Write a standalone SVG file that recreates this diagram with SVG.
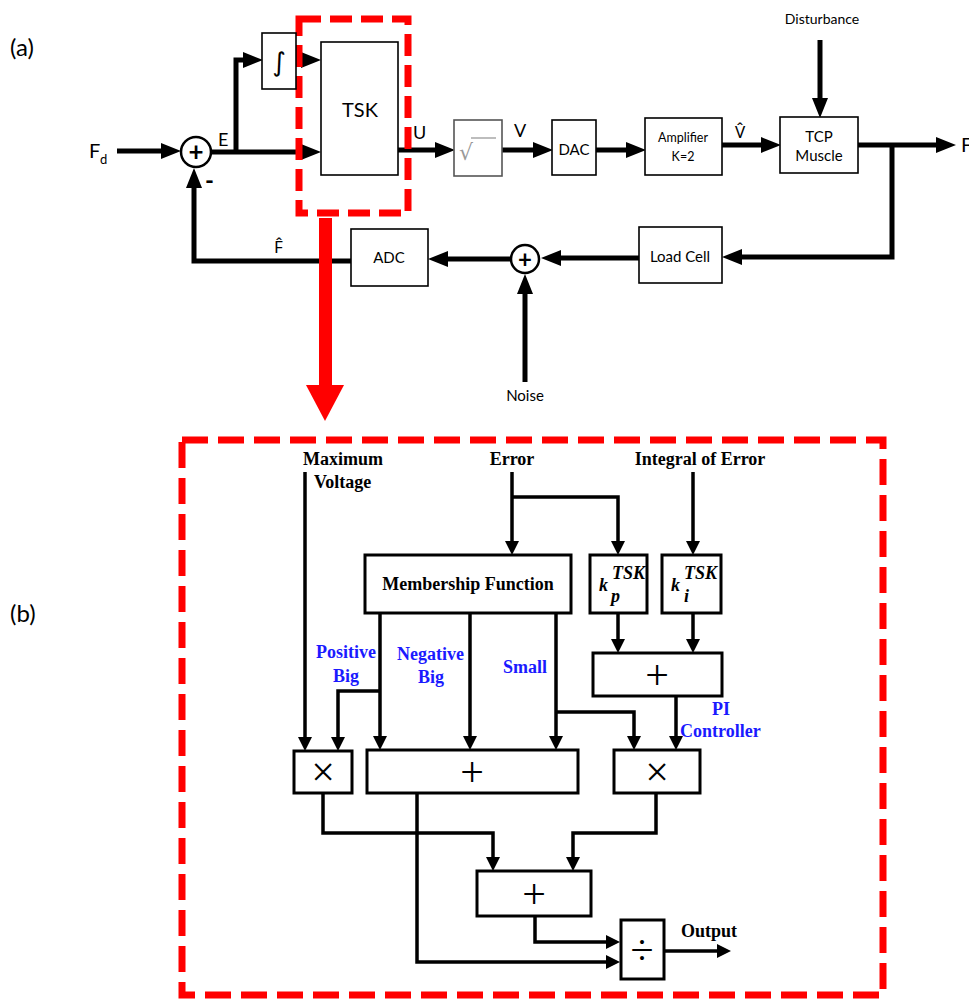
<svg xmlns="http://www.w3.org/2000/svg" width="969" height="1001" viewBox="0 0 969 1001">
<style>
.ba{fill:#fff;stroke:#000;stroke-width:1.6}
.bb{fill:#fff;stroke:#000;stroke-width:3}
.la{fill:none;stroke:#000;stroke-width:5;stroke-linejoin:miter}
.lb{fill:none;stroke:#000;stroke-width:3.5;stroke-linejoin:miter}
.ma{marker-end:url(#ha)}
.mb{marker-end:url(#hb)}
.ta{font-family:Lato,"Open Sans",sans-serif;fill:#000}
.tc{font-family:"Noto Sans","DejaVu Sans",sans-serif;fill:#000}
.tb{font-family:"Liberation Serif","Times New Roman",serif;font-weight:bold;fill:#000;font-size:18px}
.blue{fill:#1a1aff}
.op{font-family:"Liberation Serif",serif;font-size:42px;fill:#000;text-anchor:middle}
.red{fill:none;stroke:#ff0000;stroke-width:7}
</style>
<defs>
<marker id="ha" markerUnits="userSpaceOnUse" markerWidth="20" markerHeight="16" refX="3" refY="8" orient="auto"><path d="M0,0 L20,8 L0,16 z" fill="#000"/></marker>
<marker id="hb" markerUnits="userSpaceOnUse" markerWidth="14" markerHeight="14" refX="2" refY="7" orient="auto"><path d="M0,0 L14,7 L0,14 z" fill="#000"/></marker>
</defs>
<rect width="969" height="1001" fill="#fff"/>

<text class="ta" x="10" y="56" font-size="24">(a)</text>
<text class="ta" x="10" y="622" font-size="24">(b)</text>

<g id="connectors">
<!-- part a -->
<line class="la ma" x1="117" y1="151" x2="164" y2="151"/>
<line class="la ma" x1="211" y1="152" x2="304" y2="152"/>
<polyline class="la ma" points="236,152 236,60 246,60"/>
<line class="la ma" x1="296" y1="60" x2="304" y2="60"/>
<line class="la ma" x1="398" y1="150" x2="438" y2="150"/>
<line class="la ma" x1="502" y1="150" x2="536" y2="150"/>
<line class="la ma" x1="596" y1="150" x2="629" y2="150"/>
<line class="la ma" x1="722" y1="145" x2="764" y2="145"/>
<line class="la ma" x1="820" y1="40" x2="820" y2="101"/>
<line class="la ma" x1="858" y1="145" x2="939" y2="145"/>
<polyline class="la ma" points="892,145 892,257 739,257"/>
<line class="la ma" x1="639" y1="258" x2="558" y2="258"/>
<line class="la ma" x1="510" y1="259" x2="445" y2="259"/>
<polyline class="la ma" points="351,261 194,261 194,185"/>
<line class="la ma" x1="525" y1="382" x2="525" y2="291"/>
<!-- part b -->
<line class="lb mb" x1="305" y1="472" x2="305" y2="739"/>
<line class="lb mb" x1="512" y1="472" x2="512" y2="543"/>
<polyline class="lb mb" points="512,497 618,497 618,543"/>
<line class="lb mb" x1="693" y1="472" x2="693" y2="543"/>
<line class="lb mb" x1="380" y1="613" x2="380" y2="738"/>
<polyline class="lb mb" points="380,691 338,691 338,739"/>
<line class="lb mb" x1="470" y1="613" x2="470" y2="738"/>
<line class="lb mb" x1="556" y1="613" x2="556" y2="738"/>
<polyline class="lb mb" points="556,712 634,712 634,738"/>
<line class="lb mb" x1="618" y1="613" x2="618" y2="641"/>
<line class="lb mb" x1="693" y1="613" x2="693" y2="641"/>
<line class="lb mb" x1="676" y1="696" x2="676" y2="738"/>
<polyline class="lb mb" points="323,793 323,833 493,833 493,859"/>
<polyline class="lb mb" points="656,793 656,833 573,833 573,859"/>
<polyline class="lb mb" points="417,793 417,962 608,962"/>
<polyline class="lb mb" points="535,916 535,942 608,942"/>
<line class="lb mb" x1="664" y1="951" x2="719" y2="951"/>
</g>

<g id="red-frame-a"><rect class="red" x="299" y="19" width="109" height="194" stroke-dasharray="22 9"/></g>
<g id="red-arrow">
<rect x="319" y="218" width="13" height="168" fill="#ff0000"/>
<polygon points="306,385 344,385 325,421" fill="#ff0000"/>
</g>
<g id="red-frame-b"><rect class="red" x="182" y="440" width="701" height="555" stroke-dasharray="26 10"/></g>

<g id="sum1"><circle cx="196" cy="152" r="15" fill="#fff" stroke="#000" stroke-width="2.5"/><text class="ta" x="196" y="161" font-size="26" font-weight="bold" text-anchor="middle">+</text></g>
<g id="sum2"><circle cx="525" cy="259" r="14" fill="#fff" stroke="#000" stroke-width="2.5"/><text class="ta" x="525" y="268" font-size="24" font-weight="bold" text-anchor="middle">+</text></g>

<g id="labels-a">
<text class="ta" x="89" y="158" font-size="20">F</text>
<text class="ta" x="100" y="164" font-size="13">d</text>
<text class="ta" x="218" y="146" font-size="18">E</text>
<text class="ta" x="205" y="189" font-size="24" font-weight="bold">-</text>
<text class="ta" x="413" y="139" font-size="18">U</text>
<text class="ta" x="514" y="137" font-size="18">V</text>
<text class="tc" x="735" y="138" font-size="17">V̂</text>
<text class="ta" x="822" y="24" font-size="14" text-anchor="middle">Disturbance</text>
<text class="ta" x="961" y="152" font-size="20">F</text>
<text class="tc" x="274" y="253" font-size="17">F̂</text>
<text class="ta" x="525" y="401" font-size="15" text-anchor="middle">Noise</text>
</g>

<g id="integrator"><rect class="ba" x="262" y="33" width="34" height="56"/><text class="tc" x="279" y="71" font-size="26" text-anchor="middle">∫</text></g>
<g id="tsk"><rect class="ba" x="321" y="42" width="77" height="133"/><text class="ta" x="360" y="117" font-size="20" text-anchor="middle">TSK</text></g>
<g id="sqrt"><rect x="454" y="120" width="48" height="56" fill="#fff" stroke="#555" stroke-width="1.6"/><text class="tc" x="466" y="160" font-size="22" text-anchor="middle" style="fill:#999">√</text><line x1="471" y1="138" x2="496" y2="138" stroke="#999" stroke-width="1.3"/></g>
<g id="dac"><rect class="ba" x="552" y="120" width="44" height="55"/><text class="ta" x="574" y="155" font-size="15" text-anchor="middle">DAC</text></g>
<g id="amplifier"><rect class="ba" x="645" y="118" width="77" height="57"/><text class="ta" x="683" y="142" font-size="12.5" text-anchor="middle">Amplifier</text><text class="ta" x="683" y="161" font-size="12.5" text-anchor="middle">K=2</text></g>
<g id="tcp"><rect class="ba" x="780" y="117" width="78" height="56"/><text class="ta" x="819" y="142" font-size="15" text-anchor="middle">TCP</text><text class="ta" x="819" y="161" font-size="15" text-anchor="middle">Muscle</text></g>
<g id="loadcell"><rect class="ba" x="639" y="227" width="83" height="56"/><text class="ta" x="680" y="262" font-size="15" text-anchor="middle">Load Cell</text></g>
<g id="adc"><rect class="ba" x="351" y="229" width="77" height="57"/><text class="ta" x="389" y="263" font-size="15" text-anchor="middle">ADC</text></g>

<g id="labels-b">
<text class="tb" x="303" y="465">Maximum</text>
<text class="tb" x="314" y="488">Voltage</text>
<text class="tb" x="512" y="465" text-anchor="middle">Error</text>
<text class="tb" x="700" y="465" text-anchor="middle">Integral of Error</text>
<text class="tb blue" x="316" y="658">Positive</text>
<text class="tb blue" x="333" y="682">Big</text>
<text class="tb blue" x="397" y="660">Negative</text>
<text class="tb blue" x="418" y="683">Big</text>
<text class="tb blue" x="503" y="673">Small</text>
<text class="tb blue" x="712" y="715">PI</text>
<text class="tb blue" x="680" y="737">Controller</text>
<text class="tb" x="681" y="937">Output</text>
</g>

<g id="membership"><rect class="bb" x="365" y="555" width="206" height="58"/><text class="tb" x="468" y="590" text-anchor="middle">Membership Function</text></g>
<g id="kp"><rect class="bb" x="590" y="555" width="57" height="58"/><text class="tb" x="599" y="591" font-size="22" font-style="italic">k</text><text class="tb" x="612" y="579" font-size="12" font-style="italic">TSK</text><text class="tb" x="611" y="602" font-size="14" font-style="italic">p</text></g>
<g id="ki"><rect class="bb" x="662" y="555" width="59" height="58"/><text class="tb" x="671" y="591" font-size="22" font-style="italic">k</text><text class="tb" x="684" y="579" font-size="12" font-style="italic">TSK</text><text class="tb" x="684" y="602" font-size="14" font-style="italic">i</text></g>
<g id="pi-sum"><rect class="bb" x="593" y="653" width="129" height="43"/><text class="op" x="657" y="689">+</text></g>
<g id="mul-left"><rect class="bb" x="294" y="751" width="58" height="42"/><text class="op" x="323" y="786">×</text></g>
<g id="sum-big"><rect class="bb" x="367" y="750" width="211" height="43"/><text class="op" x="472" y="786">+</text></g>
<g id="mul-right"><rect class="bb" x="614" y="750" width="86" height="43"/><text class="op" x="657" y="786">×</text></g>
<g id="sum-bottom"><rect class="bb" x="477" y="871" width="114" height="45"/><text class="op" x="534" y="908">+</text></g>
<g id="divide"><rect class="bb" x="621" y="920" width="43" height="59"/><text class="op" x="642" y="964" font-size="36">÷</text></g>
</svg>
